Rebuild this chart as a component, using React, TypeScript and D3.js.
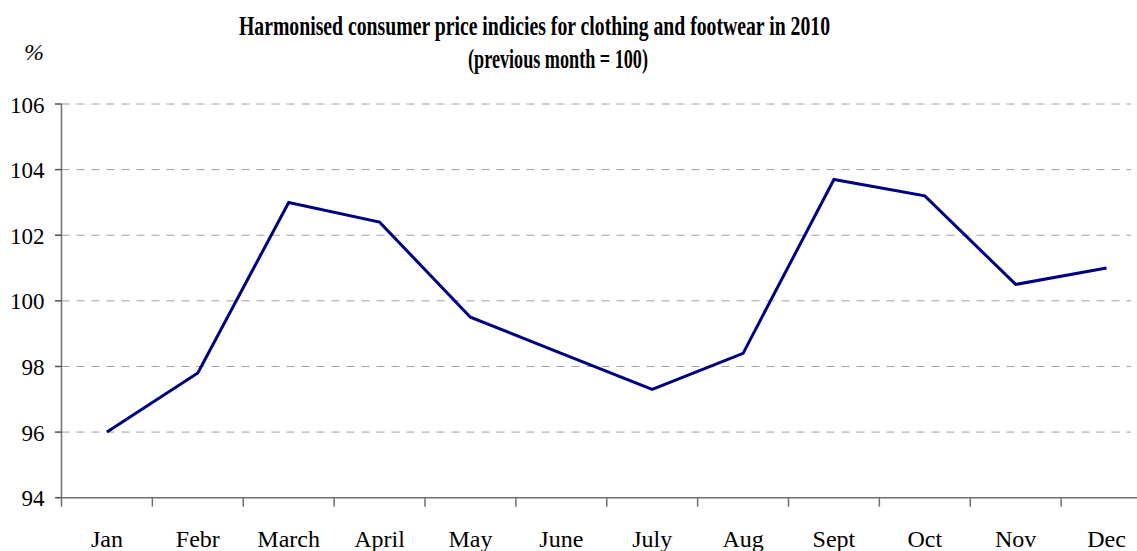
import React from "react";
import * as d3 from "d3";

const months = ["Jan", "Febr", "March", "April", "May", "June", "July", "Aug", "Sept", "Oct", "Nov", "Dec"];
const values = [96.0, 97.8, 103.0, 102.4, 99.5, 98.4, 97.3, 98.4, 103.7, 103.2, 100.5, 101.0];
const yTicks = [94, 96, 98, 100, 102, 104, 106];
const titleLines = [
  "Harmonised consumer price indicies for clothing and footwear in 2010",
  "(previous month = 100)",
];

const W = 1137;
const H = 551;
const left = 61.5;
const right = 1152;
const top = 104;
const bottom = 497.7;

export default function App() {
  const x = d3.scaleBand<string>().domain(months).range([left, right]).padding(0);
  const y = d3.scaleLinear().domain([94, 106]).range([bottom, top]);
  const line = d3
    .line<number>()
    .x((_, i) => (x(months[i]) as number) + x.bandwidth() / 2)
    .y((d) => y(d));
  const font = "'Liberation Serif', 'Times New Roman', serif";
  const boundaries = d3.range(months.length + 1).map((i) => left + i * x.bandwidth());

  return (
    <svg
      width={W}
      height={H}
      style={{ position: "absolute", left: 0, top: 0, background: "#fff" }}
      fontFamily={font}
    >
      <rect x={0} y={0} width={W} height={H} fill="#fff" />
      {/* title */}
      <text x={534.5} y={35} textAnchor="middle" fontWeight="bold" fontSize={26.5} textLength={591} lengthAdjust="spacingAndGlyphs">
        {titleLines[0]}
      </text>
      <text x={558} y={67.5} textAnchor="middle" fontWeight="bold" fontSize={26.5} textLength={180} lengthAdjust="spacingAndGlyphs">
        {titleLines[1]}
      </text>
      <text x={44} y={60} textAnchor="end" fontStyle="italic" fontSize={24}>
        %
      </text>
      {/* gridlines */}
      {yTicks
        .filter((t) => t !== 94)
        .map((t) => (
          <line
            key={"g" + t}
            x1={left}
            x2={1131}
            y1={y(t)}
            y2={y(t)}
            stroke="#a0a0a0"
            strokeWidth={1}
            strokeDasharray="8,7"
          />
        ))}
      {/* y axis */}
      <line x1={left} x2={left} y1={top} y2={bottom} stroke="#707070" strokeWidth={1.5} />
      {yTicks.map((t) => (
        <g key={"y" + t}>
          <line x1={55} x2={left} y1={y(t)} y2={y(t)} stroke="#505050" strokeWidth={1.5} />
          <text x={44.5} y={y(t) + 8.5} textAnchor="end" fontSize={23} fill="#000">
            {t}
          </text>
        </g>
      ))}
      {/* x axis */}
      <line x1={left} x2={right} y1={bottom} y2={bottom} stroke="#707070" strokeWidth={1.5} />
      {boundaries.map((b, i) => (
        <line key={"xt" + i} x1={b} x2={b} y1={bottom} y2={bottom + 9} stroke="#707070" strokeWidth={1.5} />
      ))}
      {months.map((m) => (
        <text
          key={m}
          x={(x(m) as number) + x.bandwidth() / 2}
          y={546.5}
          textAnchor="middle"
          fontSize={24}
          fill="#000"
        >
          {m}
        </text>
      ))}
      {/* series */}
      <path d={line(values) || ""} fill="none" stroke="#000080" strokeWidth={3} strokeLinejoin="miter" />
    </svg>
  );
}
